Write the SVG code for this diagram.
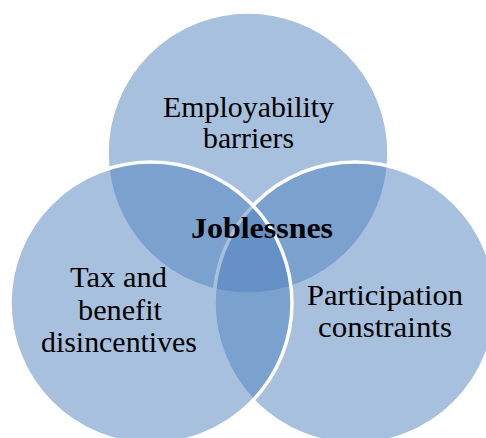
<svg xmlns="http://www.w3.org/2000/svg" width="486" height="438" viewBox="0 0 486 438">
  <style>
    .set { fill: #4f81bd; fill-opacity: 0.5; stroke: #ffffff; stroke-width: 3.5; }
    .lbl { font-family: "Liberation Serif", "Times New Roman", serif; font-size: 29px; fill: #000000; text-anchor: middle; }
    .core { font-weight: bold; font-size: 30px; }
  </style>
  <rect width="486" height="438" fill="#ffffff"/>
  <g id="employability">
    <circle class="set" cx="248" cy="153" r="141"/>
  </g>
  <g id="participation">
    <circle class="set" cx="355" cy="303" r="141"/>
  </g>
  <g id="tax-benefit">
    <circle class="set" cx="151" cy="303" r="141"/>
  </g>
  <g id="labels">
    <text class="lbl" x="248.5" y="117" textLength="171" lengthAdjust="spacingAndGlyphs">Employability</text>
    <text class="lbl" x="248.5" y="148" textLength="91" lengthAdjust="spacingAndGlyphs">barriers</text>
    <text class="lbl core" x="262" y="238" textLength="142" lengthAdjust="spacingAndGlyphs">Joblessnes</text>
    <text class="lbl" x="118.5" y="287" textLength="97" lengthAdjust="spacingAndGlyphs">Tax and</text>
    <text class="lbl" x="120" y="320" textLength="84" lengthAdjust="spacingAndGlyphs">benefit</text>
    <text class="lbl" x="119" y="352" textLength="156" lengthAdjust="spacingAndGlyphs">disincentives</text>
    <text class="lbl" x="385" y="305" textLength="156" lengthAdjust="spacingAndGlyphs">Participation</text>
    <text class="lbl" x="385" y="337" textLength="134" lengthAdjust="spacingAndGlyphs">constraints</text>
  </g>
</svg>
